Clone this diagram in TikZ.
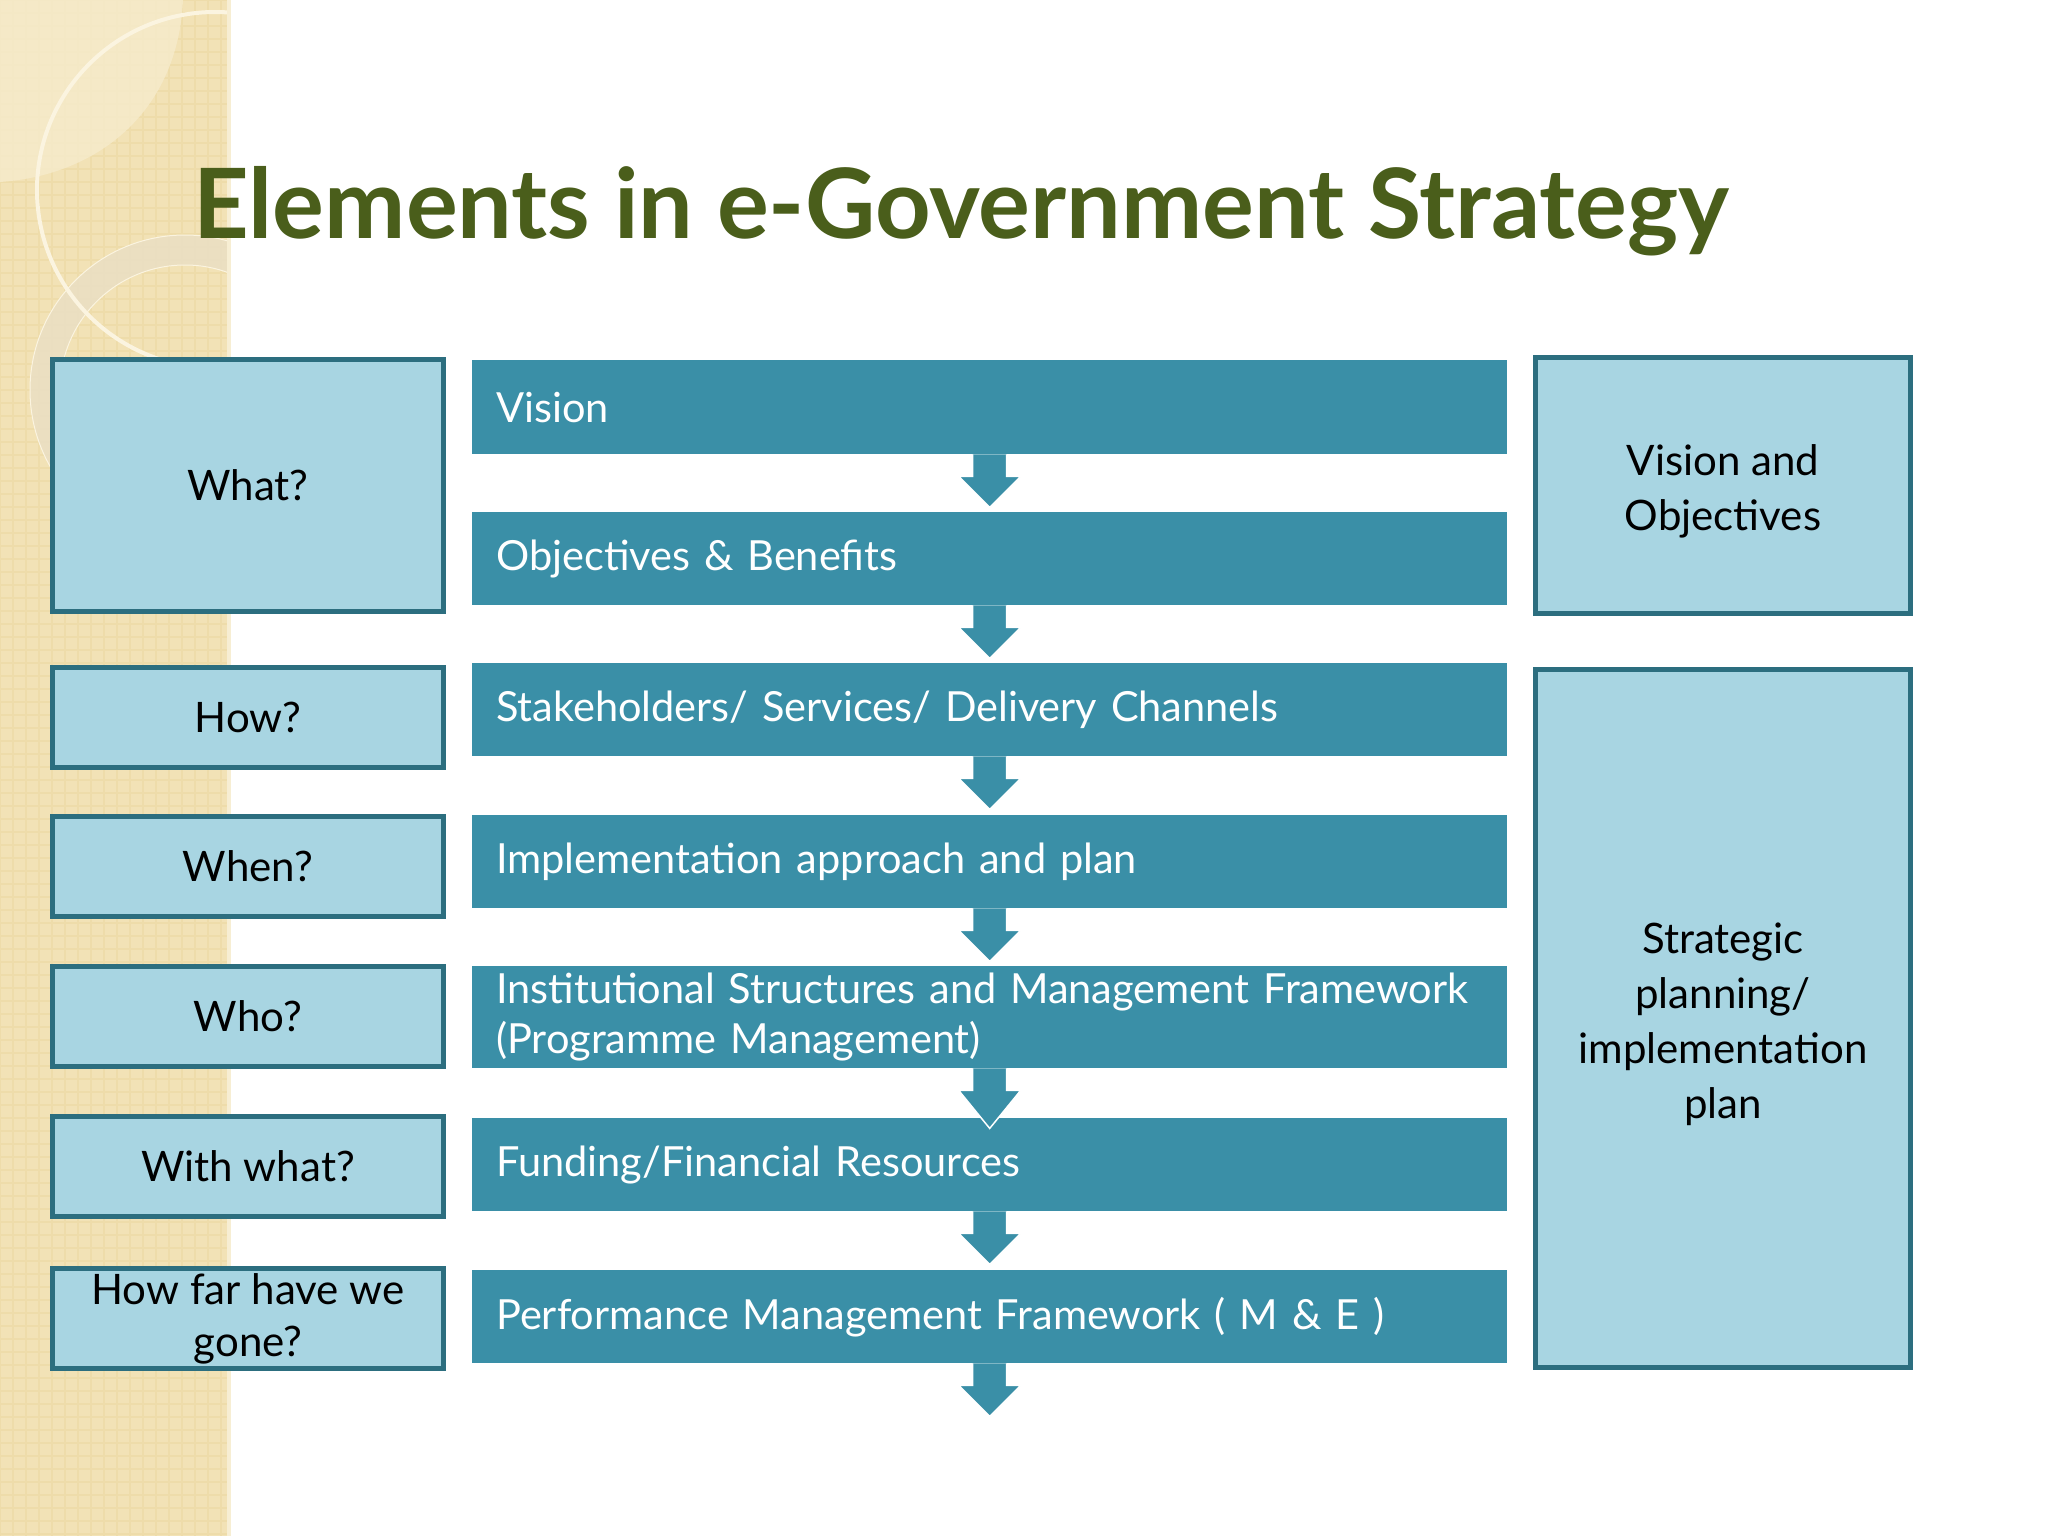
\documentclass[tikz,border=0pt]{standalone}
\usepackage{fontspec}
\setmainfont{Lato}
\usetikzlibrary{calc}
\definecolor{barc}{HTML}{3A8FA7}
\definecolor{boxfill}{HTML}{A8D5E2}
\definecolor{boxline}{HTML}{2C6E7F}
\definecolor{titlegreen}{HTML}{4A5E1B}
\definecolor{beige}{HTML}{F2E2B6}
\definecolor{beigelight}{HTML}{F6EBCC}
\definecolor{beigegrid}{HTML}{EEDCAA}
\definecolor{arcc}{HTML}{FBF4E0}
\definecolor{ringc}{HTML}{EADFC4}
\newcommand\flowarrow[2][53]{%
  \path[fill=barc, draw=white, line width=1.5pt]
    ($(#2.south)+(-17,0)$) -- ($(#2.south)+(-17,22)$) -- ($(#2.south)+(-31,22)$)
    -- ($(#2.south)+(0,#1)$) -- ($(#2.south)+(31,22)$) -- ($(#2.south)+(17,22)$)
    -- ($(#2.south)+(17,0)$);}
\begin{document}
\begin{tikzpicture}[x=1pt,y=-1pt,
  stepbar/.style={fill=barc, text=white, anchor=north west, minimum height=93pt,
    text width=987pt, inner xsep=24pt, inner ysep=0pt, align=left,
    font=\fontsize{41.5}{50}\selectfont},
  qbox/.style={fill=boxfill, draw=boxline, line width=5pt, anchor=north west,
    minimum width=391pt, minimum height=100pt, inner sep=0pt, align=center,
    text=black, font=\fontsize{42}{52}\selectfont},
  rbox/.style={fill=boxfill, draw=boxline, line width=5pt, anchor=north west,
    minimum width=375pt, inner sep=0pt},
  rtext/.style={inner sep=0pt, align=center, text=black,
    font=\fontsize{42}{55}\selectfont}]
\useasboundingbox (0,0) rectangle (2048,1536);
\fill[white] (0,0) rectangle (2048,1536);
% decorative strip
\begin{scope}
  \clip (0,0) rectangle (227,1536);
  \fill[beige] (0,0) rectangle (227,1536);
  \draw[beigegrid, line width=1.2pt, step=13pt] (0,0) grid (227,1536);
  \fill[beigelight, opacity=0.8] (0,0) -- (183,0) .. controls (178,110) and (100,175) .. (0,182) -- cycle;
  \fill[ringc, opacity=0.85, even odd rule] (185,390) circle (155) (185,390) circle (125);
  \draw[arcc, line width=1pt] (185,390) circle (155) (185,390) circle (125);
  \draw[arcc, line width=4pt] (215,190) circle (178);
\end{scope}
\fill[beige!60!white] (227,0) rectangle (231,1536);
% title
\node[anchor=base west, inner sep=0pt, text=titlegreen, font=\fontsize{97}{105}\selectfont\bfseries]
  (title) at (193,238) {Elements in e-Government Strategy};
% left question boxes
\node[qbox, minimum height=252pt] (what) at (50,357) {What?};
\node[qbox] (how) at (50,665) {How?};
\node[qbox] (when) at (50,814) {When?};
\node[qbox] (who) at (50,964) {Who?};
\node[qbox] (withwhat) at (50,1114) {With what?};
\node[qbox] (howfar) at (50,1266) {How far have we\\gone?};
% central bars
\node[stepbar, minimum height=94pt] (vision) at (472,360) {Vision};
\node[stepbar] (objectives) at (472,512) {Objectives \& Benefits};
\node[stepbar] (stake) at (472,663) {Stakeholders/ Services/ Delivery Channels};
\node[stepbar] (impl) at (472,815) {Implementation approach and plan};
\node[stepbar, minimum height=102pt] (inst) at (472,966) {Institutional Structures and Management Framework\\(Programme Management)};
\node[stepbar] (fund) at (472,1118) {Funding/Financial Resources};
\node[stepbar] (perf) at (472,1270) {Performance Management Framework ( M \& E )};
% arrows
\flowarrow{vision}
\flowarrow{objectives}
\flowarrow{stake}
\flowarrow{impl}
\flowarrow[60]{inst}
\flowarrow{fund}
\flowarrow{perf}
% right boxes
\node[rbox, minimum height=256pt] (visobj) at (1533,355) {};
\node[rtext] (visobjtext) at ($(visobj.center)+(0,6)$) {Vision and\\Objectives};
\node[rbox, minimum height=698pt] (strat) at (1533,667) {};
\node[rtext] (strattext) at ($(strat.center)+(0,6)$) {Strategic\\planning/\\implementation\\plan};
\end{tikzpicture}
\end{document}
